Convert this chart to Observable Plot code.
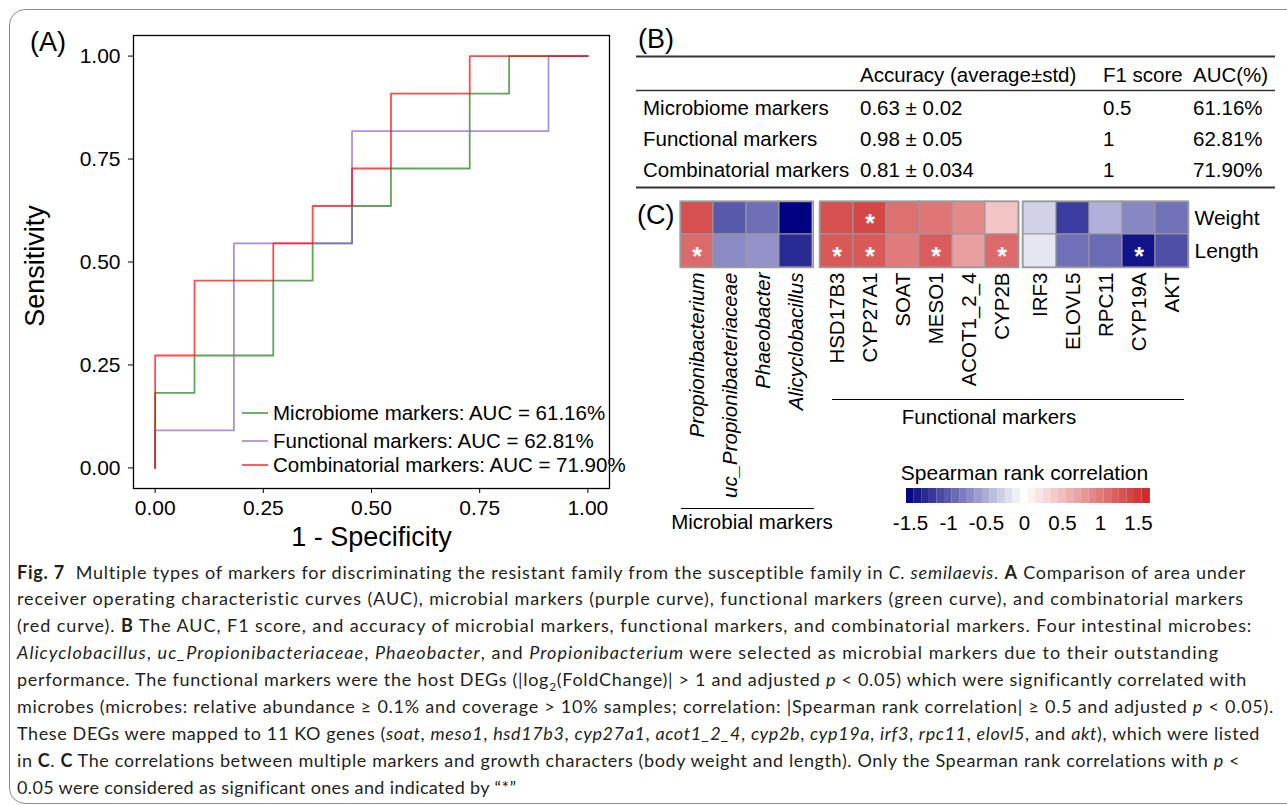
<!DOCTYPE html>
<html>
<head>
<meta charset="utf-8">
<script src="https://cdn.jsdelivr.net/npm/d3@7"></script>
<script src="https://cdn.jsdelivr.net/npm/@observablehq/plot@0.6"></script>
<style>
html, body { margin:0; padding:0; background:#fff; }
#fig { position:relative; width:1287px; height:805px; overflow:hidden; font-family:"Liberation Sans", Arial, sans-serif; }
#border { position:absolute; left:9px; top:9px; width:1320px; height:795px; border:1.5px solid #8c8c8c; border-radius:16px; box-sizing:border-box; }
.pl { position:absolute; }
.pl svg { overflow: visible; max-width:none !important; }
.cap { position:absolute; left:17px; white-space:nowrap; font-family:Lato, "Noto Sans", sans-serif; font-size:18px; line-height:27px; color:#231f20; }
.cap b { font-weight:700; }
.cap sub { font-size:12px; line-height:0; }
</style>
</head>
<body>
<div id="fig"><div id="border"></div></div>
<script>
// ---------------- DATA ----------------
// Panel A: ROC curves (false positive rate / true positive rate at the step corners)
const microFpr = [0, 0.091, 0.273, 0.364, 0.455, 0.545, 0.727, 0.818, 1];
const microTpr = [0, 0.182, 0.273, 0.455, 0.545, 0.636, 0.727, 0.909, 1];
const funcFpr  = [0, 0.182, 0.455, 0.909, 1];
const funcTpr  = [0, 0.091, 0.545, 0.818, 1];
const combFpr  = [0, 0.091, 0.273, 0.364, 0.455, 0.545, 0.727, 1];
const combTpr  = [0, 0.273, 0.455, 0.545, 0.636, 0.727, 0.909, 1];
const axisTicks = [0, 0.25, 0.5, 0.75, 1];

// Panel B: table
const tableRows = ["Microbiome markers", "Functional markers", "Combinatorial markers"];
const tableHeaders = ["Accuracy (average±std)", "F1 score", "AUC(%)"];
const tableAccuracy = ["0.63 ± 0.02", "0.98 ± 0.05", "0.81 ± 0.034"];
const tableF1 = ["0.5", "1", "1"];
const tableAUC = ["61.16%", "62.81%", "71.90%"];

// Panel C: heatmap
const microbes = ["Propionibacterium", "uc_Propionibacteriaceae", "Phaeobacter", "Alicyclobacillus"];
const genesPos = ["HSD17B3", "CYP27A1", "SOAT", "MESO1", "ACOT1_2_4", "CYP2B"];
const genesNeg = ["IRF3", "ELOVL5", "RPC11", "CYP19A", "AKT"];
const traits = ["Weight", "Length"];
const weightCorr = [1.32, -1.01, -0.88, -1.55, 1.32, 1.39, 1.08, 1.04, 0.90, 0.44, -0.28, -1.18, -0.48, -0.73, -0.86];
const lengthCorr = [1.12, -0.71, -0.66, -1.30, 1.26, 1.26, 1.00, 1.23, 0.72, 1.12, -0.15, -0.87, -0.91, -1.43, -1.07];
const weightSig  = [0, 0, 0, 0, 0, 1, 0, 0, 0, 0, 0, 0, 0, 0, 0];
const lengthSig  = [1, 0, 0, 0, 1, 1, 0, 1, 0, 1, 0, 0, 0, 1, 0];
const colorbarTicks = [-1.5, -1, -0.5, 0, 0.5, 1, 1.5];

// Caption
const captionLines = [
 `<b>Fig. 7</b>&nbsp;&nbsp;Multiple types of markers for discriminating the resistant family from the susceptible family in <i>C. semilaevis</i>. <b>A</b> Comparison of area under`,
 `receiver operating characteristic curves (AUC), microbial markers (purple curve), functional markers (green curve), and combinatorial markers`,
 `(red curve). <b>B</b> The AUC, F1 score, and accuracy of microbial markers, functional markers, and combinatorial markers. Four intestinal microbes:`,
 `<i>Alicyclobacillus</i>, <i>uc_Propionibacteriaceae</i>, <i>Phaeobacter</i>, and <i>Propionibacterium</i> were selected as microbial markers due to their outstanding`,
 `performance. The functional markers were the host DEGs (|log<sub>2</sub>(FoldChange)| &gt; 1 and adjusted <i>p</i> &lt; 0.05) which were significantly correlated with`,
 `microbes (microbes: relative abundance ≥ 0.1% and coverage &gt; 10% samples; correlation: |Spearman rank correlation| ≥ 0.5 and adjusted <i>p</i> &lt; 0.05).`,
 `These DEGs were mapped to 11 KO genes (<i>soat</i>, <i>meso1</i>, <i>hsd17b3</i>, <i>cyp27a1</i>, <i>acot1_2_4</i>, <i>cyp2b</i>, <i>cyp19a</i>, <i>irf3</i>, <i>rpc11</i>, <i>elovl5</i>, and <i>akt</i>), which were listed`,
 `in <b>C</b>. <b>C</b> The correlations between multiple markers and growth characters (body weight and length). Only the Spearman rank correlations with <i>p</i> &lt;`,
 `0.05 were considered as significant ones and indicated by “*”`
];
const captionEnds = [1247, 1245, 1253, 1219, 1247, 1275, 1260, 1241, 516];

// ---------------- BUILD ----------------
const FONT = "'Liberation Sans', Arial, Helvetica, sans-serif";
const fig = document.getElementById("fig");
function place(node, left, top, w) {
  const d = document.createElement("div");
  d.className = "pl";
  d.style.left = left + "px"; d.style.top = top + "px"; d.style.width = w + "px";
  d.appendChild(node); fig.appendChild(d);
}

// Panel A
const seriesNames = ["Microbiome markers", "Functional markers", "Combinatorial markers"];
const seriesColors = ["#1e7d14", "#8a63c6", "#ff0000"];
const rocData = [
  ...microFpr.map((f, i) => ({series: seriesNames[0], fpr: f, tpr: microTpr[i]})),
  ...funcFpr.map((f, i) => ({series: seriesNames[1], fpr: f, tpr: funcTpr[i]})),
  ...combFpr.map((f, i) => ({series: seriesNames[2], fpr: f, tpr: combTpr[i]}))
];
const rocPlot = Plot.plot({
  width: 640, height: 560,
  marginLeft: 133, marginRight: 31, marginTop: 35, marginBottom: 72,
  x: {domain: [-0.05, 1.05]},
  y: {domain: [-0.05, 1.05]},
  color: {domain: seriesNames, range: seriesColors},
  style: {fontFamily: FONT, fontSize: "21px", color: "#000", background: "transparent"},
  marks: [
    Plot.axisX({ticks: axisTicks, tickFormat: d3.format(".2f"), tickSize: 5, tickPadding: 7, fontSize: 21, label: null, stroke: "#000"}),
    Plot.axisY({ticks: axisTicks, tickFormat: d3.format(".2f"), tickSize: 5, tickPadding: 8, fontSize: 21, label: null, stroke: "#000"}),
    Plot.line(rocData, {x: "fpr", y: "tpr", z: "series", stroke: "series", curve: "step-before", strokeOpacity: 0.7, strokeWidth: 1.8}),
    Plot.frame({stroke: "#000", strokeWidth: 1.3}),
    Plot.text(["Sensitivity"], {text: d => d, frameAnchor: "left", textAnchor: "middle", lineAnchor: "middle", rotate: -90, dx: -98, dy: 4, fontSize: 27}),
    Plot.text(["1 - Specificity"], {text: d => d, frameAnchor: "bottom", textAnchor: "middle", lineAnchor: "middle", dy: 49, fontSize: 27})
  ]
});
place(rocPlot, 0, 0, 640);

// Panel C heatmap blocks
const allMarkers = [...microbes, ...genesPos, ...genesNeg];
const cells = allMarkers.flatMap((m, i) => [
  {marker: m, trait: "Weight", r: weightCorr[i], sig: weightSig[i]},
  {marker: m, trait: "Length", r: lengthCorr[i], sig: lengthSig[i]}
]);
const corrColor = {type: "linear", domain: [-1.553, 0, 1.658], range: ["#000080", "#ffffff", "#cd2323"], interpolate: "rgb", clamp: true};
const CW = 33.2, ROWH = 66;
function block(cols, frameLeft, italic, rowLabels) {
  const ml = 1, mr = rowLabels ? 100 : 1, mb = 260;
  const data = cells.filter(d => cols.includes(d.marker));
  const marks = [
    Plot.cell(data, {x: "marker", y: "trait", fill: "r", stroke: "#9a9a9a", strokeWidth: 1, inset: 0}),
    Plot.text(data.filter(d => d.sig), {x: "marker", y: "trait", text: () => "*", fill: "white", fontSize: 25, fontWeight: "bold", dy: 6}),
    Plot.frame({stroke: "#9a9a9a", strokeWidth: 1.5}),
    Plot.axisX({tickSize: 0, tickPadding: 5, tickRotate: -90, fontSize: 20.5, label: null, fontStyle: italic ? "italic" : "normal"})
  ];
  if (rowLabels) marks.push(Plot.axisY({anchor: "right", tickSize: 0, tickPadding: 6, fontSize: 21, label: null}));
  const p = Plot.plot({
    width: cols.length * CW + ml + mr, height: ROWH + 1 + mb,
    marginLeft: ml, marginRight: mr, marginTop: 1, marginBottom: mb,
    x: {domain: cols, padding: 0},
    y: {domain: traits, padding: 0, axis: rowLabels ? undefined : null},
    color: corrColor,
    style: {fontFamily: FONT, fontSize: "20.5px", color: "#000", background: "transparent"},
    marks
  });
  if (italic) d3.select(p).selectAll("g[aria-label='x-axis tick label'] text").style("font-style", "italic");
  place(p, frameLeft - ml, 200, cols.length * CW + ml + mr);
}
block(microbes, 680, true, false);
block(genesPos, 819, false, false);
block(genesNeg, 1022, false, true);

// Colorbar
const cbSteps = d3.range(-1.553, 1.658, 0.1);
const cbPlot = Plot.plot({
  width: 304, height: 60,
  marginLeft: 30, marginRight: 30, marginTop: 0, marginBottom: 45,
  x: {domain: [-1.553, 1.658]},
  color: corrColor,
  style: {fontFamily: FONT, fontSize: "20.5px", color: "#000", background: "transparent"},
  marks: [
    Plot.rect(cbSteps, {x1: d => d, x2: d => Math.min(d + 0.101, 1.658), fill: d => d + 0.05}),
    Plot.axisX({ticks: colorbarTicks, tickFormat: d => String(d), tickSize: 0, tickPadding: 12, fontSize: 20.5, label: null}),
    Plot.text(["Spearman rank correlation"], {text: d => d, frameAnchor: "top", lineAnchor: "middle", textAnchor: "middle", dy: -15, dx: -4, fontSize: 21})
  ]
});
place(cbPlot, 876, 488, 304);

// Annotation overlay: panel labels, table, legend, brackets
const svg = d3.create("svg").attr("width", 1287).attr("height", 805)
  .style("position", "absolute").style("left", "0px").style("top", "0px")
  .style("font-family", FONT).style("pointer-events", "none");
const lab = [["(A)", 30, 51], ["(B)", 638, 48], ["(C)", 637, 224]];
lab.forEach(([t, x, y]) => svg.append("text").attr("x", x).attr("y", y).attr("font-size", 27).text(t));

// Panel A legend
seriesNames.forEach((n, i) => {
  const y = [413, 441, 465][i];
  svg.append("line").attr("x1", 242).attr("x2", 268).attr("y1", y).attr("y2", y)
    .attr("stroke", seriesColors[i]).attr("stroke-opacity", 0.7).attr("stroke-width", 1.8);
  svg.append("text").attr("x", 273).attr("y", y).attr("dy", "0.36em").attr("font-size", 20.5)
    .text(`${n}: AUC = ${tableAUC[i]}`);
});

// Panel B table
[[56.5, 1.8], [90.5, 1.3], [187.5, 1.8]].forEach(([y, w]) =>
  svg.append("line").attr("x1", 636).attr("x2", 1275).attr("y1", y).attr("y2", y).attr("stroke", "#333").attr("stroke-width", w));
const colX = [643, 860, 1103, 1193];
tableHeaders.forEach((h, j) => svg.append("text").attr("x", colX[j + 1]).attr("y", 82).attr("font-size", 20.5).text(h));
tableRows.forEach((r, i) => {
  const y = 115 + i * 31;
  [r, tableAccuracy[i], tableF1[i], tableAUC[i]].forEach((t, j) =>
    svg.append("text").attr("x", colX[j]).attr("y", y).attr("font-size", 20.5).text(t));
});

// Panel C brackets
svg.append("line").attr("x1", 681).attr("x2", 814).attr("y1", 508.5).attr("y2", 508.5).attr("stroke", "#000").attr("stroke-width", 1.2);
svg.append("text").attr("x", 752).attr("y", 529).attr("text-anchor", "middle").attr("font-size", 20.5).text("Microbial markers");
svg.append("line").attr("x1", 832).attr("x2", 1184).attr("y1", 399.5).attr("y2", 399.5).attr("stroke", "#000").attr("stroke-width", 1.2);
svg.append("text").attr("x", 989).attr("y", 424).attr("text-anchor", "middle").attr("font-size", 20.5).text("Functional markers");
fig.appendChild(svg.node());

// Caption
captionLines.forEach((html, i) => {
  const d = document.createElement("div");
  d.className = "cap";
  d.style.top = (572 + i * 26.9 - 13.5) + "px";
  d.innerHTML = html;
  fig.appendChild(d);
  const w = d.getBoundingClientRect().width;
  const n = d.textContent.length;
  const ls = (captionEnds[i] - 17 - w) / n;
  if (Math.abs(ls) < 2) d.style.letterSpacing = ls.toFixed(3) + "px";
});
</script>
</body>
</html>
